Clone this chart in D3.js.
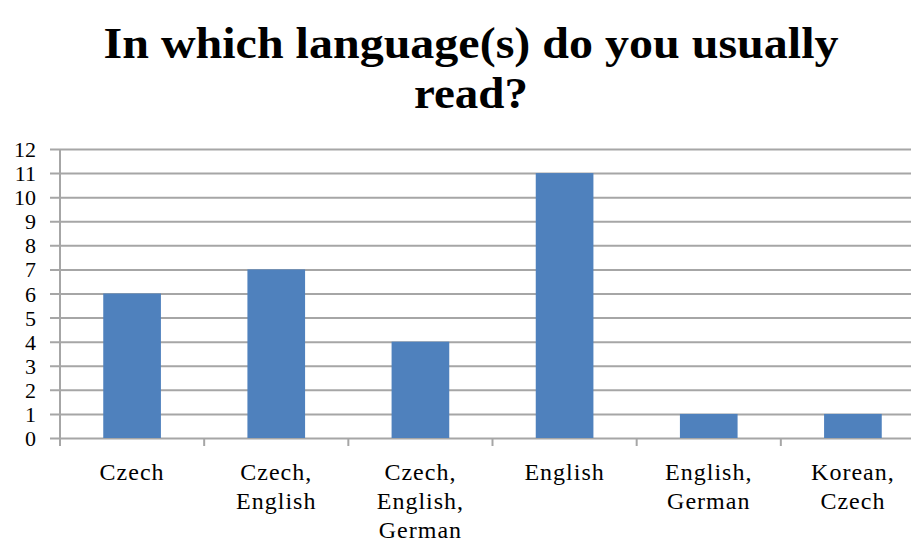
<!DOCTYPE html>
<html>
<head>
<meta charset="utf-8">
<script src="https://cdn.jsdelivr.net/npm/d3@7"></script>
<style>
  body { margin: 0; background: #fff; }
  text { font-family: "Liberation Serif", "Times New Roman", serif; }
</style>
</head>
<body>
<div id="chart"></div>
<script>
// chart data
var categories = [
  ["Czech"],
  ["Czech,", "English"],
  ["Czech,", "English,", "German"],
  ["English"],
  ["English,", "German"],
  ["Korean,", "Czech"]
];
var counts = [6, 7, 4, 11, 1, 1];
var yTicks = [0, 1, 2, 3, 4, 5, 6, 7, 8, 9, 10, 11, 12];
var titleLines = ["In which language(s) do you usually", "read?"];

var width = 911, height = 543;
var plotLeft = 60, plotRight = 925, plotTop = 149, plotBottom = 438;
var gridColor = "#a6a6a6";

var svg = d3.select("#chart").append("svg")
  .attr("width", width)
  .attr("height", height);

// title
var titleWidths = [735, 114];
svg.append("g").selectAll("text")
  .data(titleLines)
  .enter().append("text")
  .attr("x", 471)
  .attr("y", (d, i) => 58 + i * 50)
  .attr("text-anchor", "middle")
  .attr("textLength", (d, i) => titleWidths[i])
  .attr("lengthAdjust", "spacingAndGlyphs")
  .style("font-weight", "bold")
  .style("font-size", "45px")
  .text(d => d);

var keys = categories.map(c => c.join(" "));

var xScale = d3.scaleBand()
  .domain(keys)
  .range([plotLeft, plotRight])
  .padding(0);

var yScale = d3.scaleLinear()
  .domain([0, 12])
  .range([plotBottom, plotTop]);

// grid lines, with the little tick stubs on the left
svg.append("g")
  .attr("transform", "translate(" + plotLeft + ",0)")
  .call(d3.axisLeft(yScale)
    .tickValues(yTicks)
    .tickSize(-(plotRight - plotLeft))
    .tickFormat(""))
  .call(g => g.select(".domain").remove())
  .call(g => g.selectAll("line")
    .attr("stroke", gridColor)
    .attr("stroke-width", 2)
    .attr("x1", -10));

// bars
var barW = xScale.bandwidth() * 0.4;
svg.append("g").selectAll("rect")
  .data(counts)
  .enter().append("rect")
  .attr("x", (d, i) => xScale(keys[i]) + (xScale.bandwidth() - barW) / 2)
  .attr("y", d => yScale(d))
  .attr("width", barW)
  .attr("height", d => yScale(0) - yScale(d))
  .attr("fill", "#4f81bd");

// y axis line
svg.append("line")
  .attr("x1", plotLeft).attr("x2", plotLeft)
  .attr("y1", plotTop).attr("y2", plotBottom + 8)
  .attr("stroke", gridColor).attr("stroke-width", 2);

// x axis ticks at band edges
svg.append("g").selectAll("line")
  .data(keys)
  .enter().append("line")
  .attr("x1", d => xScale(d)).attr("x2", d => xScale(d))
  .attr("y1", plotBottom).attr("y2", plotBottom + 8)
  .attr("stroke", gridColor).attr("stroke-width", 2);

// y tick labels
svg.append("g").selectAll("text")
  .data(yTicks)
  .enter().append("text")
  .attr("x", 36)
  .attr("y", d => yScale(d) + 8)
  .attr("text-anchor", "end")
  .style("font-size", "22px")
  .text(d => d);

// x category labels
var xl = svg.append("g").selectAll("text")
  .data(categories)
  .enter().append("text")
  .attr("x", (d, i) => xScale(keys[i]) + xScale.bandwidth() / 2)
  .attr("y", 480)
  .attr("text-anchor", "middle")
  .style("font-size", "24px")
  .style("letter-spacing", "1px");

xl.selectAll("tspan")
  .data(d => d)
  .enter().append("tspan")
  .attr("x", function() { return d3.select(this.parentNode).attr("x"); })
  .attr("dy", (d, i) => i === 0 ? 0 : 29)
  .text(d => d);
</script>
</body>
</html>
